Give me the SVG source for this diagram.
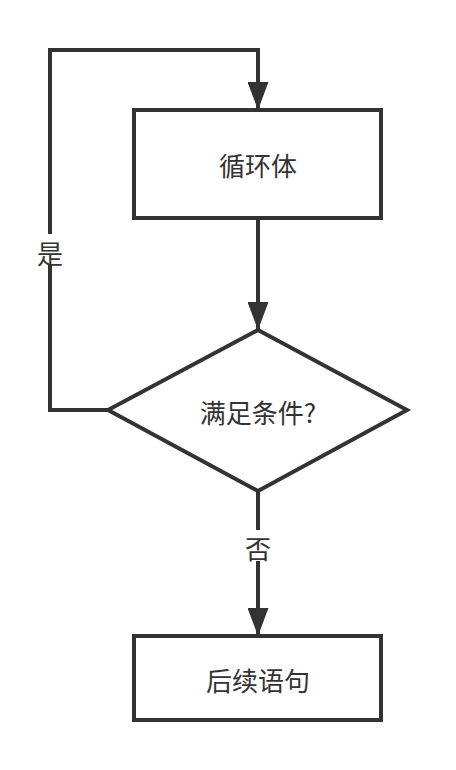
<svg xmlns="http://www.w3.org/2000/svg" width="456" height="770" viewBox="0 0 456 770">
<defs>
<style>
.s{fill:#fff;stroke:#333;stroke-width:4}
.c{fill:none;stroke:#333;stroke-width:4}
.t{font-family:"Noto Sans CJK SC","Noto Sans",sans-serif;font-size:26px;fill:#333;text-anchor:middle;dominant-baseline:central}
.l{fill:#fff}
</style>
<marker id="a" viewBox="0 0 28 21" refX="28" refY="10.5" markerWidth="28" markerHeight="21" markerUnits="userSpaceOnUse" orient="auto">
<path d="M0,0 L28,10.5 L0,21 Z" fill="#333"/>
</marker>
</defs>
<rect width="456" height="770" fill="#fff"/>
<g id="connectors">
<path class="c" d="M108,410 H50 V50 H258 V110" marker-end="url(#a)"/>
<path class="c" d="M258,218 V330" marker-end="url(#a)"/>
<path class="c" d="M258,491 V636" marker-end="url(#a)"/>
<rect class="l" x="35" y="234" width="30" height="30"/>
<text class="t" x="50" y="252">是</text>
<rect class="l" x="243" y="530" width="30" height="31"/>
<text class="t" x="258" y="547">否</text>
</g>
<g id="loop-body">
<rect class="s" x="134" y="110" width="247" height="108"/>
<text class="t" x="258" y="164">循环体</text>
</g>
<g id="condition">
<path class="s" d="M258,330 L407,410 L258,491 L108,410 Z"/>
<text class="t" x="258" y="411">满足条件?</text>
</g>
<g id="next">
<rect class="s" x="134" y="636" width="247" height="84"/>
<text class="t" x="258" y="679">后续语句</text>
</g>
</svg>
